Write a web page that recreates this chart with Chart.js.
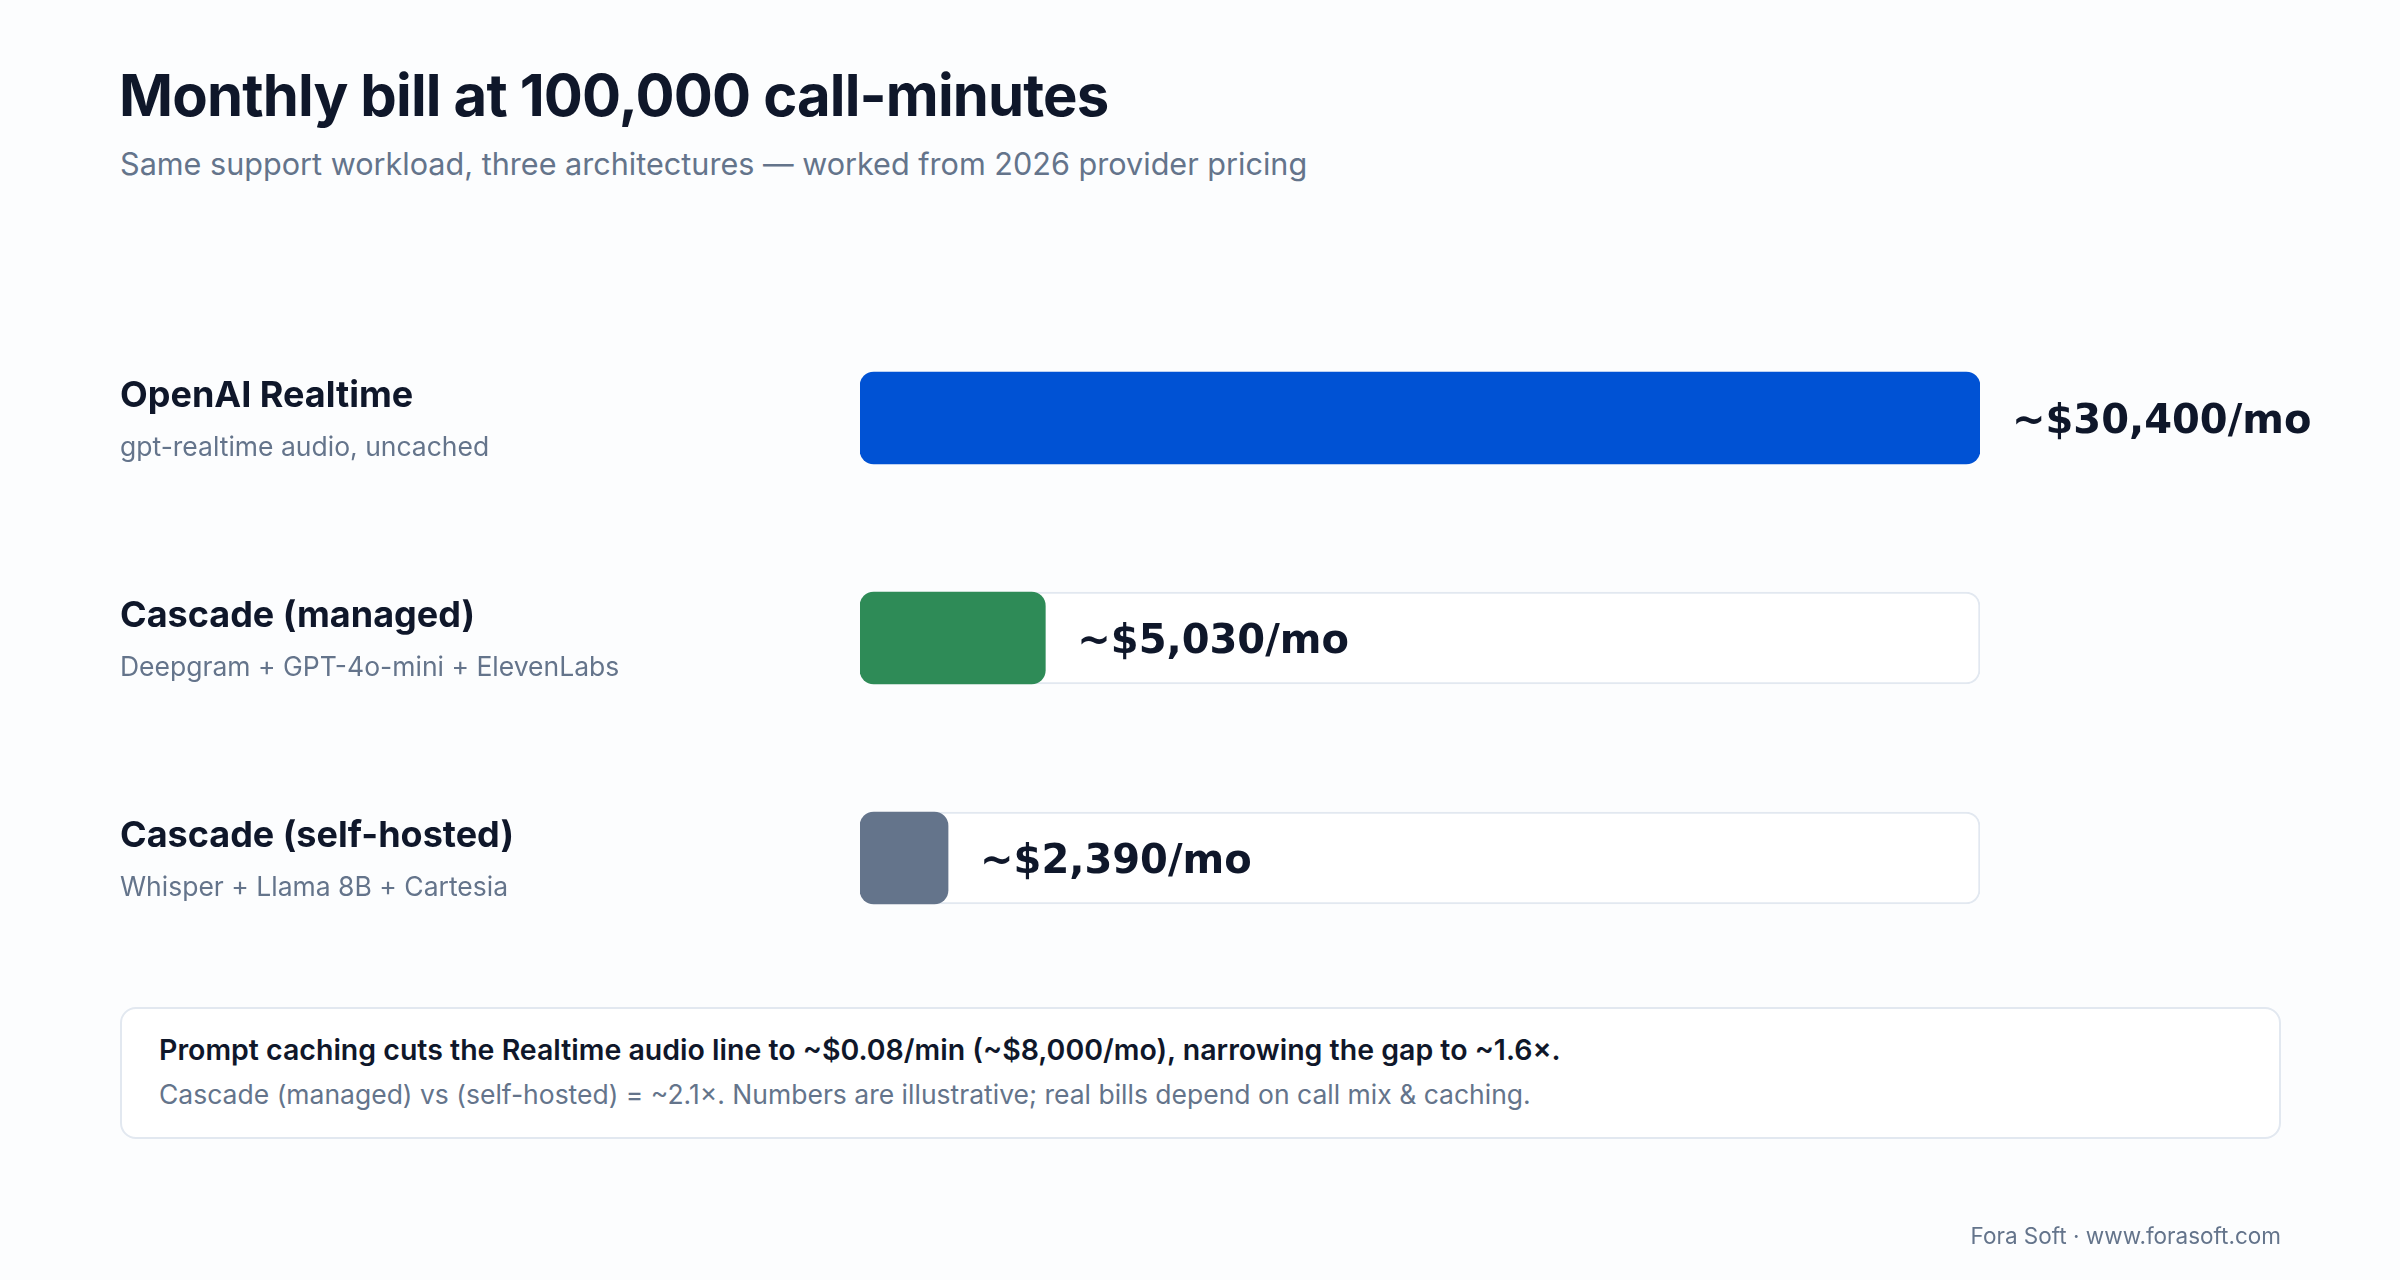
<!DOCTYPE html>
<html>
<head>
<meta charset="utf-8">
<script src="https://cdn.jsdelivr.net/npm/chart.js@4"></script>
<style>
  html, body { margin: 0; padding: 0; }
  body {
    width: 2400px; height: 1280px; position: relative; overflow: hidden;
    background: #fcfdfe; font-family: Inter, "Noto Sans", sans-serif;
  }
  .txt { position: absolute; white-space: nowrap; line-height: 1; }
  #title { left: 119px; top: 66px; font-size: 58px; font-weight: 700; color: #0f172a; letter-spacing: -0.85px; }
  #subtitle { left: 120px; top: 149px; font-size: 30.6px; color: #64748b; }
  #note {
    position: absolute; left: 120px; top: 1007px; width: 2161px; height: 132px;
    box-sizing: border-box; border: 2px solid #e2e8f0; border-radius: 16px; background: #ffffff;
  }
  #note1 { left: 159px; top: 1035.5px; font-size: 28.5px; font-weight: 600; color: #0f172a; }
  #note2 { left: 159px; top: 1080.5px; font-size: 26.5px; color: #64748b; }
  #footer { right: 119px; top: 1225px; font-size: 22.5px; color: #64748b; }
  #chart { position: absolute; left: 0; top: 0; }
</style>
</head>
<body>
<div class="txt" id="title">Monthly bill at 100,000 call-minutes</div>
<div class="txt" id="subtitle">Same support workload, three architectures — worked from 2026 provider pricing</div>
<canvas id="chart" width="2400" height="1280"></canvas>
<div id="note"></div>
<div class="txt" id="note1">Prompt caching cuts the Realtime audio line to ~$0.08/min (~$8,000/mo), narrowing the gap to ~1.6×.</div>
<div class="txt" id="note2">Cascade (managed) vs (self-hosted) = ~2.1×. Numbers are illustrative; real bills depend on call mix &amp; caching.</div>
<div class="txt" id="footer">Fora Soft · www.forasoft.com</div>

<script>
const architectures = ['OpenAI Realtime', 'Cascade (managed)', 'Cascade (self-hosted)'];
const stacks = ['gpt-realtime audio, uncached', 'Deepgram + GPT-4o-mini + ElevenLabs', 'Whisper + Llama 8B + Cartesia'];
const monthlyCost = [30400, 5030, 2390];
const barColors = ['#0052d4', '#2e8b57', '#64748b'];

const scaleMax = Math.max(...monthlyCost);

// left labels + value labels next to each bar
const labelPlugin = {
  id: 'rowLabels',
  afterDatasetsDraw(chart) {
    const ctx = chart.ctx;
    const bars = chart.getDatasetMeta(0).data;
    ctx.save();
    bars.forEach((bar, i) => {
      const y = bar.y;
      ctx.textAlign = 'left';
      ctx.textBaseline = 'alphabetic';

      ctx.fillStyle = '#0f172a';
      ctx.font = '700 36px Inter';
      ctx.fillText(architectures[i], 120, y - 11);

      ctx.fillStyle = '#64748b';
      ctx.font = '26.5px Inter';
      ctx.fillText(stacks[i], 120, y + 38);

      ctx.fillStyle = '#0f172a';
      ctx.font = 'bold 40px "DejaVu Sans"';
      ctx.fillText('~$' + monthlyCost[i].toLocaleString('en-US') + '/mo', bar.x + 32, y + 15);
    });
    ctx.restore();
  }
};

new Chart(document.getElementById('chart'), {
  type: 'bar',
  data: {
    labels: architectures,
    datasets: [
      {
        data: monthlyCost,
        backgroundColor: barColors,
        borderRadius: 14,
        borderSkipped: false,
        barThickness: 92,
        grouped: false,
        order: 0
      },
      {
        data: monthlyCost.map(() => scaleMax),
        backgroundColor: '#ffffff',
        borderColor: '#e2e8f0',
        borderWidth: 2,
        borderRadius: 14,
        borderSkipped: false,
        barThickness: 92,
        grouped: false,
        order: 1
      }
    ]
  },
  options: {
    indexAxis: 'y',
    responsive: false,
    animation: false,
    layout: { padding: { left: 860, right: 420, top: 308, bottom: 312 } },
    scales: {
      x: { display: false, min: 0, max: scaleMax },
      y: { display: false }
    },
    plugins: {
      legend: { display: false },
      tooltip: { enabled: false }
    }
  },
  plugins: [labelPlugin]
});
</script>
</body>
</html>
